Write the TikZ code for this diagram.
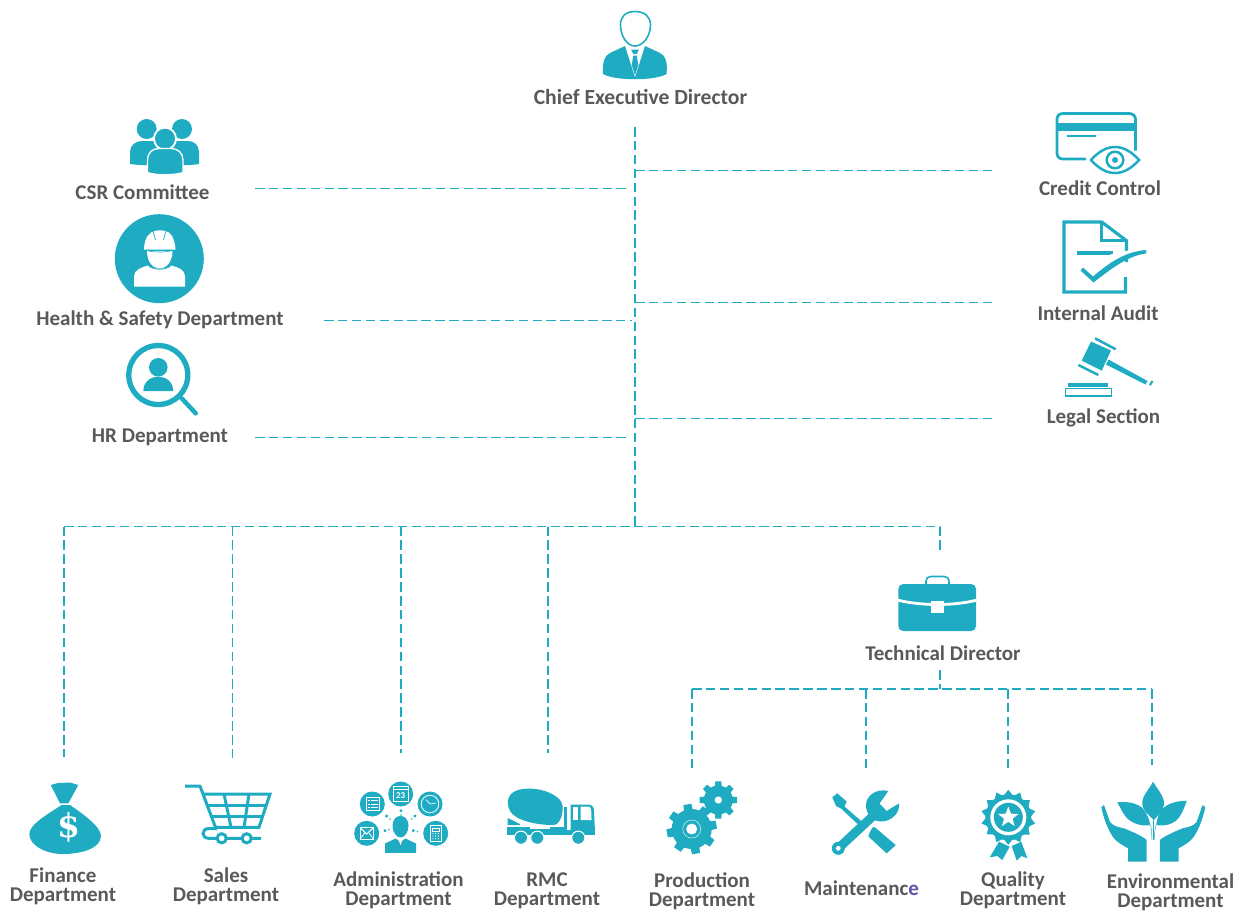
\documentclass[tikz,border=0pt]{standalone}
\usepackage{fontspec}
\setmainfont{Carlito}
\newfontfamily\dollarfont{DejaVu Serif}
\definecolor{teal1}{HTML}{1FACC2}
\definecolor{txt}{HTML}{58595B}
\definecolor{purp}{HTML}{5B57A6}
\tikzset{
  link/.style={draw=teal1,line width=1.2pt,dash pattern=on 9.5pt off 4.4pt},
  lbl/.style={inner sep=0pt,text=txt,font=\bfseries\fontsize{21}{19}\selectfont,align=center},
  ic/.style={fill=teal1,draw=none},
  wh/.style={fill=white,draw=none},
  ol/.style={draw=teal1,fill=none},
  wl/.style={draw=white,fill=none,line width=0.7pt}
}
\begin{document}
\begin{tikzpicture}[x=1pt,y=-1pt]
\useasboundingbox (0,0) rectangle (1244,911);
% ---------- labels
\node[lbl,font=\bfseries\fontsize{21.6}{19}\selectfont] (ceo) at (640.5,97) {Chief Executive Director};
\node[lbl] (csr) at (142.5,192) {CSR Committee};
\node[lbl] (hs) at (160,320) {Health \& Safety Department};
\node[lbl] (hr) at (160,437) {HR Department};
\node[lbl] (cc) at (1100,188) {Credit Control};
\node[lbl] (ia) at (1098,313) {Internal Audit};
\node[lbl] (ls) at (1103.5,417.5) {Legal Section};
\node[lbl] (td) at (943,653) {Technical Director};
\node[lbl] (fin) at (63,886.5) {Finance\\Department};
\node[lbl] (sal) at (226,886.5) {Sales\\Department};
\node[lbl] (adm) at (398.5,890.5) {Administration\\Department};
\node[lbl] (rmc) at (547,890.5) {RMC\\Department};
\node[lbl] (pro) at (702,891.5) {Production\\Department};
\node[lbl] (mai) at (861.5,888) {Maintenanc\textcolor{purp}{e}};
\node[lbl] (qua) at (1013,890.5) {Quality\\Department};
\node[lbl] (env) at (1170.5,892) {Environmental\\Department};
% ---------- connector ends
\coordinate (tTop) at (635,127);
\coordinate (tBot) at (635,526);
\coordinate (jR1) at (635,170.5);
\coordinate (jR2) at (635,302.5);
\coordinate (jR3) at (635,418.5);
\coordinate (eR1) at (996,170.5);
\coordinate (eR2) at (996,302.5);
\coordinate (eR3) at (992,418.5);
\coordinate (sL1) at (255,188.5);
\coordinate (eL1) at (629,188.5);
\coordinate (sL2) at (324,320.5);
\coordinate (eL2) at (632,320.5);
\coordinate (sL3) at (255,437.5);
\coordinate (eL3) at (630,437.5);
\coordinate (b0) at (64,526.5);
\coordinate (b1) at (232.5,526.5);
\coordinate (b2) at (401,526.5);
\coordinate (b3) at (548,526.5);
\coordinate (b4) at (940,526.5);
\coordinate (d0) at (64,757);
\coordinate (d1) at (232.5,760);
\coordinate (d2) at (401,753);
\coordinate (d3) at (548,753);
\coordinate (d4) at (940,551);
\coordinate (tdOut) at (940,670);
\coordinate (tdBus) at (940,689);
\coordinate (c0) at (692,689);
\coordinate (c1) at (866,689);
\coordinate (c2) at (1008,689);
\coordinate (c3) at (1152,689);
\coordinate (e0) at (692,770);
\coordinate (e1) at (866,768);
\coordinate (e2) at (1008,768);
\coordinate (e3) at (1152,765);
% ---------- connectors
\path[link] (tTop) -- (tBot);
\path[link] (jR1) -- (eR1);
\path[link] (jR2) -- (eR2);
\path[link] (jR3) -- (eR3);
\path[link] (sL1) -- (eL1);
\path[link] (sL2) -- (eL2);
\path[link] (sL3) -- (eL3);
\path[link] (b0) -- (b4);
\path[link] (b0) -- (d0);
\path[link] (b1) -- (d1);
\path[link] (b2) -- (d2);
\path[link] (b3) -- (d3);
\path[link] (b4) -- (d4);
\path[link] (tdOut) -- (tdBus);
\path[link] (c0) -- (c3);
\path[link] (c0) -- (e0);
\path[link] (c1) -- (e1);
\path[link] (c2) -- (e2);
\path[link] (c3) -- (e3);
% ---------- CEO icon
\draw[ol,line width=1.6pt] (635,11.5) .. controls (625,11.5) and (620.5,17) .. (620.5,25) .. controls (620.5,36) and (627,46) .. (635,46) .. controls (643,46) and (650.5,36) .. (650.5,25) .. controls (650.5,17) and (645,11.5) .. (635,11.5) -- cycle;
\fill[ic] (603,74) .. controls (602.5,62) and (604,56) .. (610,53) -- (625,46) -- (635,77.5) -- (645,46) -- (660,53) .. controls (666,56) and (667.5,62) .. (666.5,74) .. controls (655,81) and (615,81) .. (603,74) -- cycle;
\fill[ic] (631,49.5) -- (639,49.5) -- (636.7,54) -- (633.3,54) -- cycle;
\fill[ic] (633.3,55.5) -- (636.7,55.5) -- (638.3,65) -- (635,75.5) -- (631.7,65) -- cycle;
% ---------- CSR icon
\fill[ic] (146.7,129) circle[radius=10pt];
\fill[ic] (182,129) circle[radius=10pt];
\fill[ic] (130,164) -- (130,152) .. controls (130,145) and (136,141) .. (142,141) -- (188,141) .. controls (194,141) and (199,145) .. (199,152) -- (199,164) .. controls (190,166) and (140,166) .. (130,164) -- cycle;
\fill[wh] (165,138.7) circle[radius=12pt];
\fill[ic] (165,138.7) circle[radius=10pt];
\draw[draw=white,fill=teal1,line width=1.3pt] (147.5,172.5) -- (147.5,160) .. controls (147.5,153) and (152,148.5) .. (159,148.5) -- (171,148.5) .. controls (178,148.5) and (183,153) .. (183,160) -- (183,172.5) .. controls (175,175.5) and (155,175.5) .. (147.5,172.5) -- cycle;
% ---------- Health icon
\fill[ic] (159.3,258.7) circle[radius=44.5pt];
\fill[wh] (144,249.5) .. controls (144,246) and (145,236) .. (151,232.5) .. controls (156,229.5) and (164,229.5) .. (169,232.5) .. controls (174,236) and (175.5,246) .. (175.5,249.5) -- cycle;
\fill[wh] (147,251) .. controls (147,262) and (153,268.5) .. (159.5,268.5) .. controls (166,268.5) and (172.5,262) .. (172.5,251) -- cycle;
\fill[wh] (134,286.5) -- (134,276) .. controls (134,270) and (142,267) .. (148,265.5) .. controls (152,270) and (167,270) .. (171,265.5) .. controls (178,267) and (185,270) .. (185,276) -- (185,286.5) -- cycle;
\draw[draw=teal1,line width=0.7pt] (153,231) -- (155.5,240);
\draw[draw=teal1,line width=0.7pt] (166,231) -- (163.5,240);
\draw[draw=teal1,line width=0.6pt] (147,250.5) .. controls (153,252.5) and (166,252.5) .. (172.5,250.5);
\draw[draw=teal1,line width=0.6pt] (148.5,265.5) .. controls (152,270.5) and (167,270.5) .. (171,265.5);
% ---------- HR icon
\draw[ol,line width=5.3pt] (158.3,375) circle[radius=29.5pt];
\draw[draw=teal1,line width=4.5pt,line cap=round] (181.7,398.3) -- (195.7,413.3);
\fill[ic] (158.3,367.3) circle[radius=9.3pt];
\fill[ic] (143.3,391) .. controls (143.5,382) and (150,376.7) .. (158.3,376.7) .. controls (166.5,376.7) and (173,382) .. (173.3,391) -- cycle;
% ---------- Credit icon
\draw[ol,line width=2.8pt] (1086,159) -- (1063,159) .. controls (1059,159) and (1057,156.5) .. (1057,153) -- (1057,119.5) .. controls (1057,116) and (1059,113.5) .. (1063,113.5) -- (1129,113.5) .. controls (1133,113.5) and (1135.5,116) .. (1135.5,119.5) -- (1135.5,150.5);
\fill[ic] (1057,122.7) rectangle (1135.5,130.7);
\draw[draw=teal1,line width=2pt] (1066.7,136) -- (1096,136);
\draw[ol,line width=2.5pt] (1091,160) .. controls (1100,150) and (1108,147) .. (1115,147) .. controls (1122,147) and (1130,150) .. (1139,160) .. controls (1130,170) and (1122,173) .. (1115,173) .. controls (1108,173) and (1100,170) .. (1091,160) -- cycle;
\draw[ol,line width=2.5pt] (1115,160) circle[radius=8.3pt];
\fill[ic] (1115,160) circle[radius=3pt];
% ---------- Audit icon
\draw[ol,line width=3.2pt,line join=miter] (1126.5,262) -- (1126.5,240.7) -- (1101.7,222) -- (1064,222) -- (1064,292) -- (1125.5,292) -- (1125.5,277);
\draw[ol,line width=2.5pt] (1101.7,222) -- (1101.7,240.7) -- (1126.5,240.7);
\draw[draw=teal1,line width=3.6pt] (1076.7,252.7) -- (1113.3,252.7);
\draw[draw=white,line width=6pt] (1110,258) .. controls (1118,255) and (1125,254) .. (1133,253);
\fill[ic] (1080.5,270.5) -- (1083,267.5) -- (1093,276.5) .. controls (1110,262) and (1125,252) .. (1145.5,250) .. controls (1147,250.5) and (1147,253) .. (1145.5,253.5) .. controls (1128,256) and (1112,268) .. (1093.5,282.5) -- cycle;
% ---------- Gavel icon
\fill[ic] (1091,341.5) -- (1111,350.5) -- (1101.7,370.7) -- (1081.7,360.7) -- cycle;
\draw[draw=teal1,line width=2.5pt] (1095,338.3) -- (1115.7,349.3);
\draw[draw=teal1,line width=2.5pt] (1078.3,365) -- (1098.3,375);
\fill[ic] (1108.5,359.5) -- (1147.5,381) -- (1145.5,384.5) -- (1106,364.5) -- cycle;
\fill[ic] (1149,384.5) -- (1151.5,380.5) -- (1153.5,381.5) -- (1150.5,386) -- cycle;
\fill[ic] (1067.7,382.7) rectangle (1108.3,387.3);
\draw[ol,line width=1.5pt] (1065.5,388.7) rectangle (1111.5,396);
% ---------- Briefcase icon
\draw[ol,line width=1.6pt] (926,584) -- (926,581) .. controls (926,578) and (928,576.5) .. (931,576.5) -- (944,576.5) .. controls (947,576.5) and (949,578) .. (949,581) -- (949,584);
\fill[ic] (903.3,584) -- (971,584) .. controls (974,584) and (976,586) .. (976,589) -- (976,626) .. controls (976,629) and (974,631) .. (971,631) -- (903.3,631) .. controls (900.3,631) and (898.3,629) .. (898.3,626) -- (898.3,589) .. controls (898.3,586) and (900.3,584) .. (903.3,584) -- cycle;
\draw[draw=white,line width=2.8pt] (897.5,600) .. controls (920,606) and (955,606) .. (977,600);
\fill[wh] (931,601) rectangle (943.5,613.3);
% ---------- Finance icon
\fill[ic] (50.7,785) -- (58,783) -- (70,782.5) -- (78.3,785) -- (68.3,803.3) -- (60,803.3) -- cycle;
\fill[ic] (61.5,805) -- (70,805) .. controls (80,812) and (101,826) .. (101,836) .. controls (101,848) and (82,854) .. (63,854) .. controls (45,854) and (29.3,845) .. (29.3,834) .. controls (29.3,824) and (50,813) .. (61.5,805) -- cycle;
\node[inner sep=0pt,text=white,font=\dollarfont\bfseries\fontsize{33}{33}\selectfont] (dollar) at (68.5,827.5) {\$};
% ---------- Cart icon
\draw[draw=teal1,line width=3pt,line join=round] (185,786) -- (200,786) -- (215.5,827.3);
\draw[draw=teal1,line width=3pt,line join=miter] (203.3,794) -- (270,794) -- (259,827.3) -- (215.5,827.3);
\draw[draw=teal1,line width=3pt] (207.5,805) -- (266.5,805);
\draw[draw=teal1,line width=3pt] (211.5,816.5) -- (262.5,816.5);
\draw[draw=teal1,line width=3pt] (224,794) -- (231,827.3);
\draw[draw=teal1,line width=3pt] (249,794) -- (244,827.3);
\draw[draw=teal1,line width=3pt] (217,828.5) -- (209,828.5) .. controls (205,828.5) and (203,831) .. (203,833.5) .. controls (203,836) and (205,838.3) .. (209,838.3) -- (261,838.3);
\draw[draw=teal1,fill=white,line width=3pt] (221.7,838.3) circle[radius=4.6pt];
\draw[draw=teal1,fill=white,line width=3pt] (246.7,838.3) circle[radius=4.6pt];
% ---------- Admin icon
\fill[ic] (372.3,804) circle[radius=12.5pt];
\fill[ic] (400.7,794) circle[radius=12.5pt];
\fill[ic] (430,804) circle[radius=12.5pt];
\fill[ic] (366.7,833.3) circle[radius=12.5pt];
\fill[ic] (435.7,833.3) circle[radius=12.5pt];
% list
\draw[wl] (366,797.5) rectangle (379,810.5);
\foreach \yy in {800.5,804,807.5}{\draw[wl] (368,\yy) -- (369.7,\yy); \draw[wl] (371,\yy) -- (377.5,\yy);}
% calendar
\draw[wl] (393.5,786.5) rectangle (408,801.5);
\draw[wl] (393.5,789) -- (408,789);
\node[inner sep=0pt,text=white,font=\bfseries\fontsize{9}{9}\selectfont] (cal) at (400.7,795.5) {23};
% clock
\draw[wl,line width=0.8pt] (430,804) circle[radius=8.8pt];
\draw[wl] (430,804) -- (426,799.5);
\draw[wl] (430,804) -- (436,803);
% envelope
\draw[wl,line width=1pt] (360,827.5) rectangle (373.5,839);
\draw[wl,line width=1pt] (360,827.5) -- (366.7,834) -- (373.5,827.5);
\draw[wl,line width=0.8pt] (360,839) -- (365,832.5);
\draw[wl,line width=0.8pt] (373.5,839) -- (368.5,832.5);
% calculator
\draw[wl] (430.5,825.5) rectangle (441,841.5);
\draw[wl] (432,828) rectangle (439.5,831);
\foreach \xx in {433,435.7,438.4}{\foreach \yy in {833.5,836,838.7}{\fill[wh] (\xx,\yy) circle[radius=0.7pt];}}
% person
\fill[ic] (400.5,816) .. controls (405.5,816) and (408.5,820) .. (408.5,826) .. controls (408.5,832) and (404.5,837.5) .. (400.5,837.5) .. controls (396.5,837.5) and (392.5,832) .. (392.5,826) .. controls (392.5,820) and (395.5,816) .. (400.5,816) -- cycle;
\fill[ic] (385,852.8) -- (385,843.5) -- (395.5,838.5) -- (399,841) -- (400.5,846) -- (402,841) -- (405.5,838.5) -- (416,843.5) -- (416,852.8) -- cycle;
\foreach \px/\py/\pr in {386.7/816/1.7,390/819/0.9,401/810.7/1.7,401/815/0.9,415/816/1.7,411.7/819/0.9,385/830.7/1.7,389/829.5/0.9,413.3/830.7/1.7,417.5/831.5/0.9}{\fill[ic] (\px,\py) circle[radius=\pr pt];}
% ---------- Truck icon
\fill[ic] (509,797) .. controls (513,788) and (530,786.5) .. (545,791) .. controls (556,795) and (562,800) .. (562.7,806) .. controls (563,815) and (560,825) .. (553,825) .. controls (535,825) and (515,820) .. (510,811) .. controls (507.5,806) and (507,801) .. (509,797) -- cycle;
\fill[ic] (507.7,818) -- (520,824) -- (520,825) -- (507.7,825) -- cycle;
\fill[ic] (507.3,830) rectangle (595,835);
\fill[ic] (507.3,826.5) rectangle (565,835);
\fill[ic] (563.5,806.5) rectangle (567.3,832);
\fill[ic] (570.5,804.5) -- (588,804.5) .. controls (592,804.5) and (594,807) .. (594,811) -- (595,832) -- (570.5,832) -- cycle;
\fill[wh] (572.5,806.7) rectangle (578.3,820);
\fill[wh] (580.7,806.7) -- (589,806.7) .. controls (591,807) and (591.5,810) .. (591.5,820) -- (580.7,820) -- cycle;
\fill[wh] (530,827) rectangle (550,828.5);
\draw[draw=white,fill=teal1,line width=1pt] (521,837.7) circle[radius=6.6pt];
\draw[draw=white,fill=teal1,line width=1pt] (537.3,837.7) circle[radius=6.6pt];
\draw[draw=white,fill=teal1,line width=1pt] (578.3,837.7) circle[radius=6.6pt];
% ---------- Gears
\begin{scope}[shift={(718.3,800)}]
\fill[ic] (0,0) circle[radius=14.5pt];
\foreach \a in {0,45,...,315}{\fill[ic,rotate=\a] (-4.5,0) -- (-3,-18.7) -- (3,-18.7) -- (4.5,0) -- cycle;}
\fill[wh] (0,0) circle[radius=3.6pt];
\end{scope}
\begin{scope}[shift={(691.7,829)}]
\draw[draw=white,fill=teal1,line width=1pt] (0,0) circle[radius=20pt];
\foreach \a in {10,55,...,325}{\fill[ic,rotate=\a] (-6,0) -- (-4,-25) -- (4,-25) -- (6,0) -- cycle;}
\fill[ic] (0,0) circle[radius=20pt];
\draw[draw=white,line width=0.4pt] (0,0) circle[radius=9pt];
\fill[wh] (0,0) circle[radius=5.5pt];
\end{scope}
% ---------- Tools
\fill[ic] (832.3,797.3) -- (837.3,793.3) -- (846.7,801.5) -- (844.5,806.5) -- (867,826) -- (863.5,829.5) -- (841,808.5) -- (836,806) -- cycle;
\draw[draw=teal1,line width=9pt] (873,816) -- (838.3,848.3);
\fill[ic] (838.3,848.3) circle[radius=6.5pt];
\fill[wh] (838.3,848.3) circle[radius=2.4pt];
\fill[ic] (888.3,791) -- (879.5,803.5) -- (886.7,811) -- (899,803.3) .. controls (900.5,812) and (892,821.5) .. (881,821.5) .. controls (871,821.5) and (866,813) .. (866,805) .. controls (866,796) and (876,788) .. (888.3,791) -- cycle;
\draw[draw=white,fill=teal1,line width=1pt] (872,827) -- (875,826.5) -- (896.7,845) -- (886.7,854.3) -- (867.7,836.7) -- (869,832.5) -- cycle;
% ---------- Quality icon
\begin{scope}[shift={(1008.3,817.3)}]
\fill[ic] (0,0) circle[radius=23pt];
\foreach \a in {0,25.7,...,335}{\fill[ic,rotate=\a] (-6,-20) -- (0,-27.5) -- (6,-20) -- cycle;}
\fill[wh] (0,0) circle[radius=18pt];
\fill[ic] (0,0) circle[radius=14.5pt];
\fill[wh] (90:10.8pt) -- (126:4.5pt) -- (162:10.8pt) -- (198:4.5pt) -- (234:10.8pt) -- (270:4.5pt) -- (306:10.8pt) -- (342:4.5pt) -- (18:10.8pt) -- (54:4.5pt) -- cycle;
\end{scope}
\fill[ic] (999,841.7) -- (1009.7,846.7) -- (1002.3,860) -- (997.3,856) -- (989.7,857.3) -- cycle;
\fill[ic] (1011.7,846) -- (1021.3,841.7) -- (1027.3,858.3) -- (1021.3,856) -- (1016.7,860.7) -- cycle;
% ---------- Environmental icon
\fill[ic] (1153,781.7) .. controls (1158,790) and (1164,796) .. (1164,804) .. controls (1164,811) and (1158,815) .. (1154,820) .. controls (1149,815) and (1142.3,811) .. (1142.3,803) .. controls (1142.3,795) and (1149,790) .. (1153,781.7) -- cycle;
\fill[ic] (1117.3,802.3) .. controls (1130,801) and (1142,804) .. (1146,813) .. controls (1148,817) and (1150,821) .. (1150,825) .. controls (1140,827) and (1130,822) .. (1126,817) .. controls (1122,812) and (1120,807) .. (1117.3,802.3) -- cycle;
\fill[ic] (1186.7,800.7) .. controls (1175,801) and (1165,804) .. (1160,812) .. controls (1158,816) and (1156.5,821) .. (1156.3,825) .. controls (1166,827) and (1176,823) .. (1180,816) .. controls (1183,811) and (1185,806) .. (1186.7,800.7) -- cycle;
\draw[draw=teal1,line width=0.5pt] (1150.5,825) -- (1151.5,830) -- (1152,840);
\draw[draw=teal1,line width=0.5pt] (1156,825) -- (1155,830) -- (1154,840);
\draw[draw=teal1,line width=0.5pt] (1153,820) -- (1153,840);
\fill[ic] (1101.3,807.3) -- (1104,805) -- (1110,822) .. controls (1113,826) and (1118,827) .. (1124,828.3) .. controls (1133,832) and (1142,836) .. (1146.7,840) -- (1146.7,861.7) -- (1128,861.7) -- (1128,848.3) .. controls (1122,845) and (1117,842) .. (1114,838.3) .. controls (1109,832) and (1104,820) .. (1101.3,807.3) -- cycle;
\fill[ic] (1205.3,807.3) -- (1202.6,805) -- (1196.6,822) .. controls (1193.6,826) and (1188.6,827) .. (1182.6,828.3) .. controls (1173.6,832) and (1164.6,836) .. (1159.9,840) -- (1159.9,861.7) -- (1178.6,861.7) -- (1178.6,848.3) .. controls (1184.6,845) and (1189.6,842) .. (1192.6,838.3) .. controls (1197.6,832) and (1202.6,820) .. (1205.3,807.3) -- cycle;
\end{tikzpicture}
\end{document}
